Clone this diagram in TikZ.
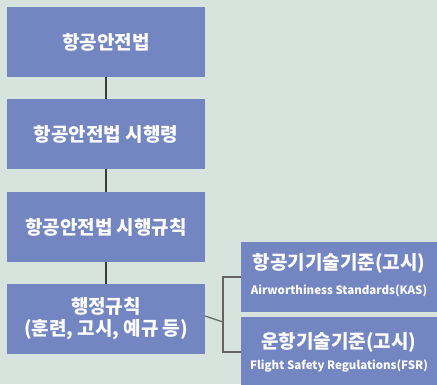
\documentclass[tikz,border=0pt]{standalone}
\usepackage{fontspec}
\setmainfont{Noto Sans CJK KR}
\definecolor{bgc}{HTML}{D6E4DD}
\definecolor{boxc}{HTML}{7386C2}
\definecolor{linec}{HTML}{3C3C3C}
\begin{document}
\begin{tikzpicture}[x=1pt,y=-1pt,
  lbox/.style={fill=boxc,draw=none,minimum width=198pt,minimum height=70pt,inner sep=0pt,text=white,font=\bfseries\fontsize{19}{25}\selectfont,align=center},
  rbox/.style={fill=boxc,draw=none,minimum width=196pt,minimum height=70pt,inner sep=0pt,text=white,align=center},
  kr/.style={text=white,inner sep=0pt,font=\bfseries\fontsize{19}{20}\selectfont},
  en/.style={text=white,inner sep=0pt,font=\bfseries\fontsize{11.5}{14}\selectfont},
  conn/.style={draw=linec,line width=1.2pt}]
\useasboundingbox (0,0) rectangle (437,384);
\fill[bgc] (0,0) rectangle (437,384);
\begin{scope}
\clip (0,0) rectangle (437,384);
\node[lbox] (a) at (106,42) {항공안전법};
\node[lbox] (b) at (106,134) {항공안전법 시행령};
\node[lbox] (c) at (106,227) {항공안전법 시행규칙};
\node[lbox] (d) at (106,319) {행정규칙\\[-3pt](훈련, 고시, 예규 등)};
\node[rbox] (e) at (339,277) {};
\node[rbox] (f) at (339,352) {};
\node[kr] (e1) at (339,263.5) {항공기기술기준(고시)};
\node[en] (e2) at (339,290.5) {Airworthiness Standards(KAS)};
\node[kr] (f1) at (339,342.5) {운항기술기준(고시)};
\node[en] (f2) at (339,366) {Flight Safety Regulations(FSR)};
\end{scope}
\draw[conn] (a.south) -- (b.north);
\draw[conn] (b.south) -- (c.north);
\draw[conn] (c.south) -- (d.north);
\coordinate (j) at (223,322);
\draw[conn,draw=linec!80] ([yshift=3pt]d.east) -- (j);
\draw[conn,draw=linec!80] (e.west) -| (j) |- (f.west);
\end{tikzpicture}
\end{document}
